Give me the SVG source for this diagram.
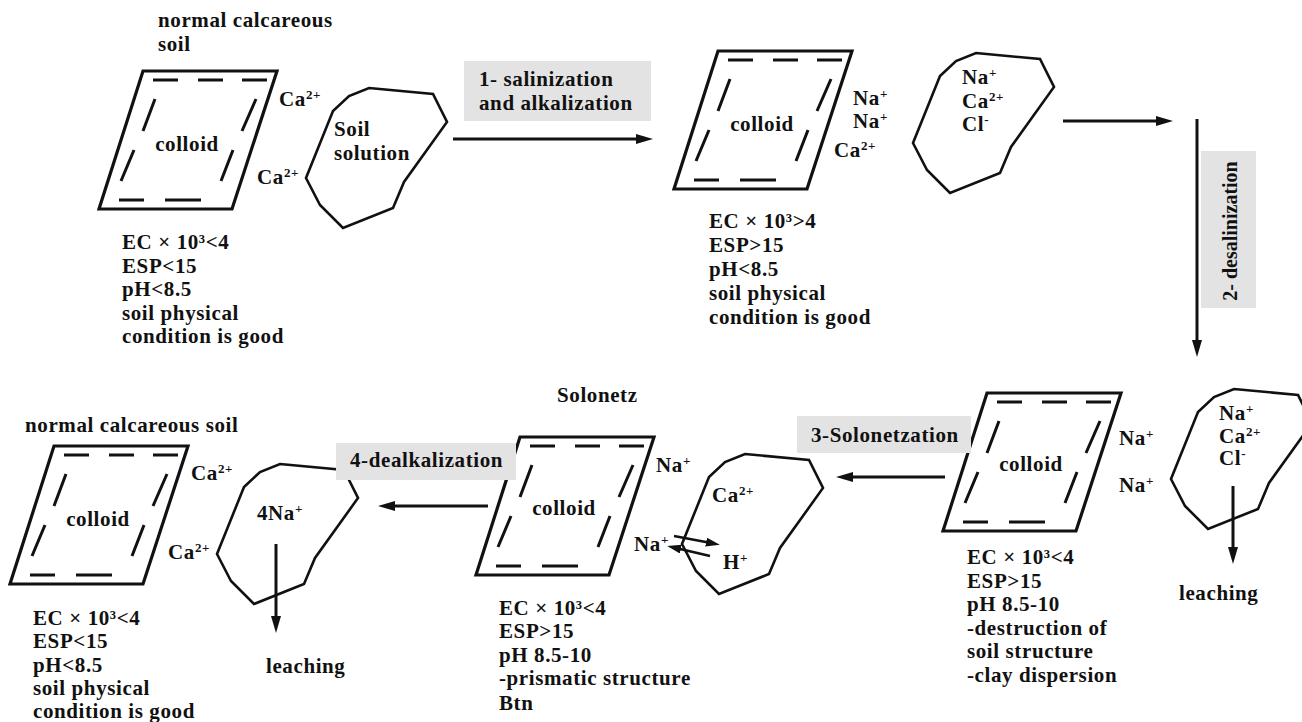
<svg xmlns="http://www.w3.org/2000/svg" xmlns:xlink="http://www.w3.org/1999/xlink" width="1302" height="722" viewBox="0 0 1302 722">
<style>
.t{font-family:"Liberation Serif","Times New Roman",serif;font-weight:bold;font-size:21px;letter-spacing:0.6px;fill:#111}
.sup{font-size:13px}
.para{fill:none;stroke:#111;stroke-width:3.2;stroke-linejoin:miter}
.dash{fill:none;stroke:#111;stroke-width:3}
.sol{fill:none;stroke:#111;stroke-width:2.6;stroke-linejoin:miter}
.ln{fill:none;stroke:#111;stroke-width:3}
.ln2{fill:none;stroke:#111;stroke-width:2.5}
.box{fill:#e3e3e3}
</style>
<defs>
<marker id="ah" markerUnits="userSpaceOnUse" markerWidth="18" markerHeight="10" refX="7" refY="5" orient="auto">
<path d="M0,0 L17,5 L0,10 z" fill="#111"/>
</marker>
<marker id="ahs" markerUnits="userSpaceOnUse" markerWidth="15" markerHeight="9" refX="5" refY="4.5" orient="auto">
<path d="M0,0 L14,4.5 L0,9 z" fill="#111"/>
</marker>
<g id="colloid">
<polygon class="para" points="44,0 178,0 133,138 0,138"/>
<path class="dash" d="M54,9H79 M99,9H124 M143,9H168 M20,129H45 M66,129H102 M56,28L44,60 M35,79L22,110 M157,28L143,60 M134,79L122,110"/>
</g>
<polygon id="solution" class="sol" points="26,-140 90,-134 104,-106 61,-46 50,-20 0,0 -23,-23 -37,-50 -10,-117 6,-132"/>
</defs>

<g id="n1">
<text class="t" x="158" y="27">normal calcareous</text>
<text class="t" x="158" y="51">soil</text>
<use href="#colloid" xlink:href="#colloid" transform="translate(99,71)"/>
<text class="t" x="187" y="151" text-anchor="middle">colloid</text>
<text class="t" x="279" y="106">Ca<tspan class="sup" dy="-7">2+</tspan></text>
<text class="t" x="257" y="184">Ca<tspan class="sup" dy="-7">2+</tspan></text>
<use href="#solution" xlink:href="#solution" transform="translate(343,228)"/>
<text class="t" x="334" y="136">Soil</text>
<text class="t" x="334" y="160">solution</text>
<text class="t" x="122" y="249">EC × 10³&lt;4</text>
<text class="t" x="122" y="273">ESP&lt;15</text>
<text class="t" x="122" y="296">pH&lt;8.5</text>
<text class="t" x="122" y="320">soil physical</text>
<text class="t" x="122" y="343">condition is good</text>
</g>

<g id="n2">
<use href="#colloid" xlink:href="#colloid" transform="translate(674,51)"/>
<text class="t" x="762" y="131" text-anchor="middle">colloid</text>
<text class="t" x="853" y="105">Na<tspan class="sup" dy="-7">+</tspan></text>
<text class="t" x="853" y="128">Na<tspan class="sup" dy="-7">+</tspan></text>
<text class="t" x="834" y="157">Ca<tspan class="sup" dy="-7">2+</tspan></text>
<use href="#solution" xlink:href="#solution" transform="translate(950,193)"/>
<text class="t" x="962" y="84">Na<tspan class="sup" dy="-7">+</tspan></text>
<text class="t" x="962" y="108">Ca<tspan class="sup" dy="-7">2+</tspan></text>
<text class="t" x="962" y="131">Cl<tspan class="sup" dy="-7">-</tspan></text>
<text class="t" x="709" y="228">EC × 10³&gt;4</text>
<text class="t" x="709" y="252">ESP&gt;15</text>
<text class="t" x="709" y="276">pH&lt;8.5</text>
<text class="t" x="709" y="300">soil physical</text>
<text class="t" x="709" y="324">condition is good</text>
</g>

<g id="n4">
<use href="#colloid" xlink:href="#colloid" transform="translate(943,393)"/>
<text class="t" x="1031" y="471" text-anchor="middle">colloid</text>
<text class="t" x="1119" y="445">Na<tspan class="sup" dy="-7">+</tspan></text>
<text class="t" x="1119" y="492">Na<tspan class="sup" dy="-7">+</tspan></text>
<use href="#solution" xlink:href="#solution" transform="translate(1208,529)"/>
<text class="t" x="1219" y="420">Na<tspan class="sup" dy="-7">+</tspan></text>
<text class="t" x="1219" y="443">Ca<tspan class="sup" dy="-7">2+</tspan></text>
<text class="t" x="1219" y="465">Cl<tspan class="sup" dy="-7">-</tspan></text>
<text class="t" x="1179" y="600">leaching</text>
<text class="t" x="967" y="564">EC × 10³&lt;4</text>
<text class="t" x="967" y="588">ESP&gt;15</text>
<text class="t" x="967" y="611">pH 8.5-10</text>
<text class="t" x="967" y="635">-destruction of</text>
<text class="t" x="967" y="658">soil structure</text>
<text class="t" x="967" y="682">-clay dispersion</text>
</g>

<g id="n3">
<text class="t" x="557" y="402">Solonetz</text>
<use href="#colloid" xlink:href="#colloid" transform="translate(476,437)"/>
<text class="t" x="564" y="515" text-anchor="middle">colloid</text>
<text class="t" x="656" y="472">Na<tspan class="sup" dy="-7">+</tspan></text>
<use href="#solution" xlink:href="#solution" transform="translate(719,594)"/>
<text class="t" x="712" y="502">Ca<tspan class="sup" dy="-7">2+</tspan></text>
<text class="t" x="634" y="551">Na<tspan class="sup" dy="-7">+</tspan></text>
<text class="t" x="723" y="569">H<tspan class="sup" dy="-7">+</tspan></text>
<text class="t" x="499" y="615">EC × 10³&lt;4</text>
<text class="t" x="499" y="638">ESP&gt;15</text>
<text class="t" x="499" y="662">pH 8.5-10</text>
<text class="t" x="499" y="685">-prismatic structure</text>
<text class="t" x="499" y="710">Btn</text>
</g>

<g id="n5">
<text class="t" x="25" y="432">normal calcareous soil</text>
<use href="#colloid" xlink:href="#colloid" transform="translate(10,446)"/>
<text class="t" x="98" y="526" text-anchor="middle">colloid</text>
<text class="t" x="191" y="480">Ca<tspan class="sup" dy="-7">2+</tspan></text>
<text class="t" x="168" y="559">Ca<tspan class="sup" dy="-7">2+</tspan></text>
<use href="#solution" xlink:href="#solution" transform="translate(254,604)"/>
<text class="t" x="257" y="520">4Na<tspan class="sup" dy="-7">+</tspan></text>
<text class="t" x="266" y="673">leaching</text>
<text class="t" x="33" y="625">EC × 10³&lt;4</text>
<text class="t" x="33" y="648">ESP&lt;15</text>
<text class="t" x="33" y="672">pH&lt;8.5</text>
<text class="t" x="33" y="695">soil physical</text>
<text class="t" x="33" y="718">condition is good</text>
</g>

<g id="connectors">
<rect class="box" x="464" y="61" width="187" height="60"/>
<text class="t" x="479" y="86">1- salinization</text>
<text class="t" x="479" y="110">and alkalization</text>
<line class="ln" x1="453" y1="139" x2="643" y2="139" marker-end="url(#ah)"/>
<line class="ln" x1="1063" y1="121" x2="1163" y2="121" marker-end="url(#ah)"/>
<rect class="box" x="1201" y="151" width="55" height="157"/>
<text class="t" style="font-size:20px;letter-spacing:0" transform="translate(1237,231) rotate(-90)" text-anchor="middle">2- desalinization</text>
<line class="ln" x1="1197" y1="119" x2="1197" y2="347" marker-end="url(#ah)"/>
<rect class="box" x="797" y="416" width="174" height="37"/>
<text class="t" x="811" y="442">3-Solonetzation</text>
<line class="ln" x1="945" y1="477" x2="846" y2="477" marker-end="url(#ah)"/>
<rect class="box" x="336" y="443" width="180" height="37"/>
<text class="t" x="350" y="467">4-dealkalization</text>
<line class="ln" x1="488" y1="506" x2="388" y2="506" marker-end="url(#ah)"/>
<line class="ln" x1="1233" y1="486" x2="1233" y2="554" marker-end="url(#ah)"/>
<line class="ln" x1="276" y1="544" x2="276" y2="623" marker-end="url(#ah)"/>
<line class="ln2" x1="674" y1="536" x2="711" y2="543" marker-end="url(#ahs)"/>
<line class="ln2" x1="710" y1="556" x2="676" y2="548" marker-end="url(#ahs)"/>
</g>
</svg>
